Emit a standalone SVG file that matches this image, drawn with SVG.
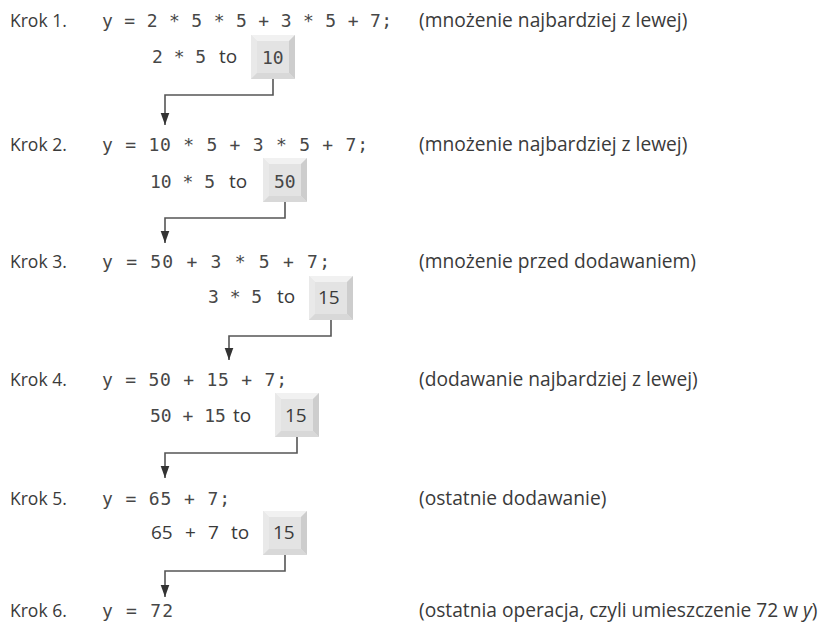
<svg xmlns="http://www.w3.org/2000/svg" width="825" height="623" viewBox="0 0 825 623">
<style>
  .lbl { font-family: "Open Sans", "Noto Sans", sans-serif; font-size: 17.5px; fill: #3a3a3a; }
  .sm { font-family: "Open Sans", "Noto Sans", sans-serif; font-size: 19px; fill: #3a3a3a; }
  .cmt { font-family: "Open Sans", "Noto Sans", sans-serif; font-size: 19.2px; fill: #3a3a3a; }
  .code { font-family: "DejaVu Sans Mono", "Liberation Mono", monospace; font-size: 18px; fill: #474747; }
  .conn { fill: none; stroke: #555; stroke-width: 1.6; }
</style>
<defs>
  <marker id="arr" markerUnits="userSpaceOnUse" markerWidth="12" markerHeight="16" refX="14" refY="5" orient="auto" viewBox="0 0 14 10">
    <path d="M0,0 L14,5 L0,10 Z" fill="#333"/>
  </marker>
  <g id="key">
    <rect x="0" y="0" width="44" height="44" fill="#e4e4e4"/>
    <polygon points="0,0 44,0 38,6 6,6" fill="#f1f1f1"/>
    <polygon points="0,0 6,6 6,38 0,44" fill="#e9e9e9"/>
    <polygon points="44,0 44,44 38,38 38,6" fill="#cdcdcd"/>
    <polygon points="0,44 44,44 38,38 6,38" fill="#d8d8d8"/>
    <rect x="6" y="6" width="32" height="32" fill="#e3e3e3"/>
  </g>
</defs>
<rect width="825" height="623" fill="#ffffff"/>

<g id="step1">
  <text class="lbl" x="10" y="27">Krok 1.</text>
  <text class="code" x="102" y="27" xml:space="preserve" textLength="290" lengthAdjust="spacing">y = 2 * 5 * 5 + 3 * 5 + 7;</text>
  <text class="cmt" x="419" y="27">(mnożenie najbardziej z lewej)</text>
  <text class="code" x="152" y="63" xml:space="preserve">2 * 5</text>
  <text class="sm" x="219" y="63">to</text>
  <use href="#key" x="251" y="35"/>
  <text class="code" x="262" y="64">10</text>
</g>

<g id="step2">
  <text class="lbl" x="10" y="151">Krok 2.</text>
  <text class="code" x="102" y="151" xml:space="preserve" textLength="266" lengthAdjust="spacing">y = 10 * 5 + 3 * 5 + 7;</text>
  <text class="cmt" x="419" y="151">(mnożenie najbardziej z lewej)</text>
  <text class="code" x="150" y="188" xml:space="preserve">10 * 5</text>
  <text class="sm" x="229" y="188">to</text>
  <use href="#key" x="263" y="158"/>
  <text class="code" x="274" y="188">50</text>
</g>

<g id="step3">
  <text class="lbl" x="10" y="268">Krok 3.</text>
  <text class="code" x="102" y="268" xml:space="preserve" textLength="228" lengthAdjust="spacing">y = 50 + 3 * 5 + 7;</text>
  <text class="cmt" x="419" y="268">(mnożenie przed dodawaniem)</text>
  <text class="code" x="208" y="303" xml:space="preserve">3 * 5</text>
  <text class="sm" x="277" y="303">to</text>
  <use href="#key" x="309" y="276"/>
  <text class="sm" x="318" y="304">15</text>
</g>

<g id="step4">
  <text class="lbl" x="10" y="386">Krok 4.</text>
  <text class="code" x="102" y="386" xml:space="preserve" textLength="185" lengthAdjust="spacing">y = 50 + 15 + 7;</text>
  <text class="cmt" x="419" y="386">(dodawanie najbardziej z lewej)</text>
  <text class="code" x="150" y="422" xml:space="preserve">50 + 15</text>
  <text class="sm" x="233" y="422">to</text>
  <use href="#key" x="275" y="393"/>
  <text class="sm" x="285" y="422">15</text>
</g>

<g id="step5">
  <text class="lbl" x="10" y="505">Krok 5.</text>
  <text class="code" x="102" y="505" xml:space="preserve" textLength="128" lengthAdjust="spacing">y = 65 + 7;</text>
  <text class="cmt" x="419" y="505">(ostatnie dodawanie)</text>
  <text class="sm" x="151" y="539">65</text>
  <text class="sm" x="185" y="539">+</text>
  <text class="sm" x="208" y="539">7</text>
  <text class="sm" x="231" y="539">to</text>
  <use href="#key" x="263" y="511"/>
  <text class="sm" x="273" y="539">15</text>
</g>

<g id="step6">
  <text class="lbl" x="10" y="617">Krok 6.</text>
  <text class="code" x="102" y="617" xml:space="preserve" textLength="71" lengthAdjust="spacing">y = 72</text>
  <text class="cmt" x="419" y="617">(ostatnia operacja, czyli umieszczenie 72 w <tspan font-style="italic">y</tspan>)</text>
</g>

<g id="connectors">
  <path class="conn" d="M273,79 V95 H165 V125" marker-end="url(#arr)"/>
  <path class="conn" d="M285,202 V218 H165 V243" marker-end="url(#arr)"/>
  <path class="conn" d="M331,320 V336 H229 V360" marker-end="url(#arr)"/>
  <path class="conn" d="M297,437 V453 H165 V478" marker-end="url(#arr)"/>
  <path class="conn" d="M285,555 V571 H165 V597" marker-end="url(#arr)"/>
</g>
</svg>
